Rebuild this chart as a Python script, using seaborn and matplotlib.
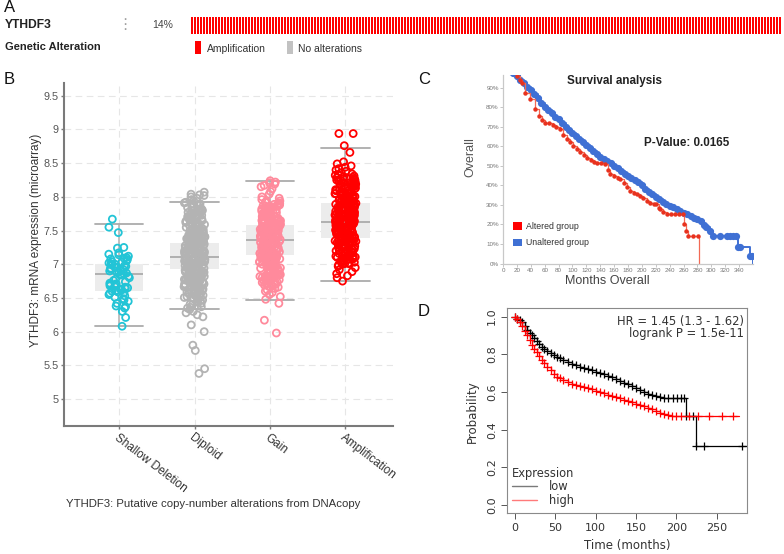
import numpy as np
import pandas as pd
import matplotlib
matplotlib.use("Agg")
import matplotlib.pyplot as plt
import matplotlib.transforms as mtransforms
from matplotlib.patches import Rectangle, Patch
from matplotlib.lines import Line2D
import seaborn as sns

# ---------------- Panel A data ----------------
gene = "YTHDF3"
altered_fraction = "14%"
n_altered_samples = 197
sample_alterations = ["Amplification"] * n_altered_samples
alteration_types = ["Amplification", "No alterations"]
alteration_colors = ["#ff0000", "#c2c2c2"]

# ---------------- Panel B data ----------------
cna_categories = ["Shallow Deletion", "Diploid", "Gain", "Amplification"]
cna_colors = ["#22c4d6", "#b3b3b3", "#ff8a9c", "#ff0000"]
box_q1 = [6.60, 6.93, 7.14, 7.39]
box_median = [6.86, 7.11, 7.36, 7.63]
box_q3 = [7.00, 7.32, 7.58, 7.91]
whisker_low = [6.08, 6.33, 6.47, 6.75]
whisker_high = [7.60, 7.92, 8.24, 8.72]
expr_yticks = [5, 5.5, 6, 6.5, 7, 7.5, 8, 8.5, 9, 9.5]

expr_shallow = [7.67, 7.55, 7.47, 7.25, 7.24, 7.17, 7.15, 7.14, 7.12, 7.10, 7.09, 7.08, 7.07, 7.05,
                7.04, 7.03, 7.02, 7.01, 7.00, 6.99, 6.98, 6.97, 6.96, 6.95, 6.94, 6.93, 6.92, 6.91,
                6.90, 6.89, 6.88, 6.87, 6.86, 6.85, 6.84, 6.82, 6.80, 6.78, 6.76, 6.74, 6.72, 6.71,
                6.70, 6.69, 6.68, 6.67, 6.66, 6.65, 6.64, 6.63, 6.62, 6.61, 6.60, 6.59, 6.58, 6.57,
                6.55, 6.53, 6.51, 6.49, 6.47, 6.45, 6.42, 6.38, 6.37, 6.35, 6.30, 6.21, 6.08]

expr_diploid = [8.07, 8.04, 8.03, 8.02, 8.00, 7.98, 7.96, 7.94, 7.92, 7.91, 7.90, 7.89, 7.88, 7.87,
                7.86, 7.85, 7.84, 7.83, 7.82, 7.81, 7.80, 7.79, 7.78, 7.77, 7.76, 7.75, 7.74, 7.73,
                7.72, 7.71, 7.70,
                7.69, 7.68, 7.67, 7.66, 7.65, 7.64, 7.63, 7.62, 7.61, 7.60,
                7.59, 7.58, 7.57, 7.56, 7.55, 7.54, 7.53, 7.52, 7.51, 7.50,
                7.49, 7.48, 7.47, 7.46, 7.45, 7.44, 7.43, 7.42, 7.41, 7.40,
                7.39, 7.38, 7.37, 7.36, 7.35, 7.34, 7.33, 7.32, 7.31, 7.30,
                7.29, 7.28, 7.27, 7.26, 7.25, 7.24, 7.23, 7.22, 7.21, 7.20,
                7.19, 7.18, 7.17, 7.16, 7.15, 7.14, 7.13, 7.12, 7.11, 7.10,
                7.09, 7.08, 7.07, 7.06, 7.05, 7.04, 7.03, 7.02, 7.01, 7.00,
                6.99, 6.98, 6.97, 6.96, 6.95, 6.94, 6.93, 6.92, 6.91, 6.90,
                6.89, 6.88, 6.87, 6.86, 6.85, 6.84, 6.83, 6.82, 6.81, 6.80,
                6.79, 6.78, 6.77, 6.76, 6.75, 6.74, 6.73, 6.72, 6.71, 6.70,
                6.69, 6.68, 6.67, 6.66, 6.65, 6.64, 6.63, 6.62, 6.61, 6.60,
                6.59, 6.58, 6.57, 6.56, 6.55, 6.54, 6.53, 6.52, 6.51, 6.50,
                7.455, 7.435, 7.415, 7.395, 7.375, 7.355, 7.335, 7.315, 7.295, 7.275, 7.255, 7.235,
                7.215, 7.195, 7.175, 7.155, 7.135, 7.115, 7.095, 7.075, 7.055, 7.035, 7.015, 6.995,
                6.975, 6.955, 6.935, 6.915, 6.895, 6.875, 6.855, 6.835, 6.815, 6.795, 6.775, 6.755,
                7.807, 7.787, 7.767, 7.747, 7.727, 7.707, 7.687, 7.667, 7.647, 7.627, 7.607, 7.587,
                7.567, 7.547, 7.527, 7.507, 7.487, 7.467, 7.447, 7.427, 7.407, 7.387, 7.367, 7.347,
                7.327, 7.307, 7.287, 7.267, 7.247, 7.227, 7.207, 7.187, 7.167, 7.147, 7.127, 7.107,
                7.087, 7.067, 7.047, 7.027, 7.007, 6.987, 6.967, 6.947, 6.927, 6.907, 6.887, 6.867,
                6.847, 6.827, 6.807, 6.787, 6.767, 6.747, 6.727, 6.707, 6.687, 6.667, 6.647, 6.627,
                6.607, 6.587, 6.567, 6.547, 6.527, 6.507,
                6.49, 6.47, 6.46, 6.45, 6.44, 6.42, 6.41, 6.40, 6.38, 6.37, 6.36, 6.35, 6.33, 6.30,
                6.28, 6.25, 6.22, 6.10, 6.00, 5.80, 5.72, 5.45, 5.38]

expr_gain = [8.24, 8.22, 8.21, 8.19, 8.17, 8.15, 8.12, 8.08, 8.04, 8.00, 7.98, 7.96, 7.94, 7.93, 7.92,
             7.91, 7.90,
             7.89, 7.88, 7.87, 7.86, 7.85, 7.84, 7.83, 7.82, 7.81, 7.80,
             7.79, 7.78, 7.77, 7.76, 7.75, 7.74, 7.73, 7.72, 7.71, 7.70,
             7.69, 7.68, 7.67, 7.66, 7.65, 7.64, 7.63, 7.62, 7.61, 7.60,
             7.59, 7.58, 7.57, 7.56, 7.55, 7.54, 7.53, 7.52, 7.51, 7.50,
             7.49, 7.48, 7.47, 7.46, 7.45, 7.44, 7.43, 7.42, 7.41, 7.40,
             7.39, 7.38, 7.37, 7.36, 7.35, 7.34, 7.33, 7.32, 7.31, 7.30,
             7.29, 7.28, 7.27, 7.26, 7.25, 7.24, 7.23, 7.22, 7.21, 7.20,
             7.19, 7.18, 7.17, 7.16, 7.15, 7.14, 7.13, 7.12, 7.11, 7.10,
             7.09, 7.08, 7.07, 7.06, 7.05, 7.04, 7.03, 7.02, 7.01, 7.00,
             6.99, 6.98, 6.97, 6.96, 6.95, 6.94, 6.93, 6.92, 6.91, 6.90,
             6.89, 6.88, 6.87, 6.86, 6.85, 6.84, 6.83, 6.82, 6.81, 6.80,
             6.79, 6.78, 6.77, 6.76, 6.75, 6.74, 6.73, 6.72, 6.71, 6.70,
             7.645, 7.625, 7.605, 7.585, 7.565, 7.545, 7.525, 7.505, 7.485, 7.465, 7.445, 7.425,
             7.405, 7.385, 7.365, 7.345, 7.325, 7.305, 7.285, 7.265, 7.245, 7.225, 7.205, 7.185,
             7.165, 7.145, 7.125, 7.105, 7.085, 7.065, 7.045,
             7.887, 7.867, 7.847, 7.827, 7.807, 7.787, 7.767, 7.747, 7.727, 7.707, 7.687, 7.667,
             7.647, 7.627, 7.607, 7.587, 7.567, 7.547, 7.527, 7.507, 7.487, 7.467, 7.447, 7.427,
             7.407, 7.387, 7.367, 7.347, 7.327, 7.307, 7.287, 7.267, 7.247, 7.227, 7.207, 7.187,
             7.167, 7.147, 7.127, 7.107, 7.087, 7.067, 7.047, 7.027, 7.007, 6.987, 6.967, 6.947,
             6.927, 6.907, 6.887, 6.867, 6.847, 6.827, 6.807, 6.787, 6.767, 6.747, 6.727, 6.707,
             6.687,
             6.69, 6.67, 6.66, 6.64, 6.62, 6.60, 6.58, 6.55, 6.52, 6.48, 6.42, 6.17, 5.98]

expr_amp = [8.94, 8.94, 8.76, 8.66, 8.52, 8.49, 8.46, 8.44, 8.42, 8.40, 8.38, 8.36, 8.34, 8.33, 8.32,
            8.31, 8.30,
            8.29, 8.28, 8.27, 8.26, 8.25, 8.24, 8.23, 8.22, 8.21, 8.20,
            8.19, 8.18, 8.17, 8.16, 8.15, 8.14, 8.13, 8.12, 8.11, 8.10,
            8.09, 8.08, 8.07, 8.06, 8.05, 8.04, 8.03, 8.02, 8.01, 8.00,
            7.99, 7.98, 7.97, 7.96, 7.95, 7.94, 7.93, 7.92, 7.91, 7.90,
            7.89, 7.88, 7.87, 7.86, 7.85, 7.84, 7.83, 7.82, 7.81, 7.80,
            7.79, 7.78, 7.77, 7.76, 7.75, 7.74, 7.73, 7.72, 7.71, 7.70,
            7.69, 7.68, 7.67, 7.66, 7.65, 7.64, 7.63, 7.62, 7.61, 7.60,
            7.59, 7.58, 7.57, 7.56, 7.55, 7.54, 7.53, 7.52, 7.51, 7.50,
            7.49, 7.48, 7.47, 7.46, 7.45, 7.44, 7.43, 7.42, 7.41, 7.40,
            7.39, 7.38, 7.37, 7.36, 7.35, 7.34, 7.33, 7.32, 7.31, 7.30,
            7.29, 7.28, 7.27, 7.26, 7.25, 7.24, 7.23, 7.22, 7.21, 7.20,
            7.19, 7.18, 7.17, 7.16, 7.15, 7.14, 7.13, 7.12, 7.11, 7.10,
            7.09, 7.08, 7.07, 7.06, 7.05, 7.04, 7.03, 7.02, 7.01, 7.00,
            7.905, 7.885, 7.865, 7.845, 7.825, 7.805, 7.785, 7.765, 7.745, 7.725, 7.705, 7.685,
            7.665, 7.645, 7.625, 7.605, 7.585, 7.565, 7.545, 7.525, 7.505, 7.485, 7.465, 7.445,
            7.425, 7.405, 7.385, 7.365, 7.345, 7.325, 7.305,
            8.287, 8.267, 8.247, 8.227, 8.207, 8.187, 8.167, 8.147, 8.127, 8.107, 8.087, 8.067,
            8.047, 8.027, 8.007, 7.987, 7.967, 7.947, 7.927, 7.907, 7.887, 7.867, 7.847, 7.827,
            7.807, 7.787, 7.767, 7.747, 7.727, 7.707, 7.687, 7.667, 7.647, 7.627, 7.607, 7.587,
            7.567, 7.547, 7.527, 7.507, 7.487, 7.467, 7.447, 7.427, 7.407, 7.387, 7.367, 7.347,
            7.327, 7.307, 7.287, 7.267, 7.247, 7.227, 7.207, 7.187, 7.167, 7.147, 7.127, 7.107,
            7.087, 7.067, 7.047, 7.027, 7.007,
            6.99, 6.97, 6.95, 6.92, 6.89, 6.86, 6.83, 6.80, 6.75]

# ---------------- Panel C data ----------------
unaltered_months = [0, 5, 10, 15, 20, 25, 30, 35, 40, 45, 50, 55, 60, 65, 70, 75, 80, 85, 90, 95,
                    100, 105, 110, 115, 120, 125, 130, 135, 140, 145, 150, 155, 160, 165, 170, 175,
                    180, 185, 190, 195, 200, 205, 210, 215, 220, 225, 230, 235, 240, 245, 250, 255,
                    260, 265, 270, 275, 280, 285, 289, 293, 298, 303, 312, 322, 327, 331, 336, 339,
                    341, 356, 358, 360]
unaltered_surv = [100, 99.2, 98.4, 97.4, 95.9, 94.2, 92.4, 90.6, 88.8, 87.0, 84.6, 82.0, 80.0, 78.5,
                  76.9, 75.3, 73.8, 72.0, 70.2, 68.4, 66.8, 65.2, 63.6, 62.1, 60.6, 59.0, 57.4, 55.9,
                  54.8, 53.8, 52.7, 51.4, 50.0, 48.7, 47.4, 46.1, 45.0, 44.0, 42.9, 41.6, 40.0, 38.4,
                  36.8, 35.4, 34.1, 32.8, 31.5, 30.5, 29.6, 28.7, 27.8, 27.0, 26.1, 25.3, 24.3, 23.4,
                  22.6, 21.6, 19.5, 18.6, 16.7, 14.2, 14.2, 14.2, 14.2, 14.2, 14.2, 8.2, 8.2, 4.0,
                  4.0, 0]
altered_months = [0, 10, 20, 25, 27, 32, 39, 46, 52, 56, 60, 66, 72, 77, 82, 87, 92, 97, 101, 106,
                  111, 116, 121, 126, 131, 135, 141, 147, 151, 154, 160, 165, 169, 174, 179, 183,
                  188, 193, 197, 202, 207, 212, 218, 221, 224, 226, 231, 236, 242, 248, 254, 259,
                  261, 264, 267, 273, 281, 282]
altered_surv = [100, 98.4, 95.9, 94.0, 92.6, 87.5, 84.1, 79.0, 75.5, 73.6, 72.0, 71.8, 71.2, 70.2,
                68.7, 66.0, 63.6, 62.2, 60.2, 58.5, 56.9, 55.6, 54.3, 53.2, 52.2, 51.7, 51.3, 50.9,
                48.0, 45.7, 44.8, 43.6, 43.1, 41.0, 39.2, 37.2, 36.2, 35.5, 34.7, 33.5, 32.1, 30.8,
                30.4, 30.4, 28.2, 27.8, 26.5, 25.2, 25.2, 25.2, 25.2, 25.2, 20.1, 16.7, 14.2, 14.2,
                14.2, 0]
surv_month_ticks = [0, 20, 40, 60, 80, 100, 120, 140, 160, 180, 200, 220, 240, 260, 280, 300, 320, 340]
surv_pct_ticks = [0, 10, 20, 30, 40, 50, 60, 70, 80, 90]
surv_groups = ["Altered group", "Unaltered group"]
surv_colors = ["#ff0000", "#3f70d4"]
p_value_text = "P-Value: 0.0165"

# ---------------- Panel D data ----------------
low_months = [0, 3, 6, 9, 12, 15, 18, 21, 24, 27, 30, 33, 36, 40, 44, 48, 52, 56, 60, 65, 70, 75,
              80, 85, 90, 95, 100, 105, 110, 115, 120, 125, 130, 135, 140, 145, 150, 155, 160, 165,
              170, 175, 180, 185, 190, 196, 201, 206, 210, 212, 221, 224, 234, 281, 287]
low_prob = [1.0, 0.99, 0.98, 0.97, 0.95, 0.93, 0.915, 0.9, 0.885, 0.87, 0.855, 0.84, 0.828, 0.816,
            0.805, 0.795, 0.786, 0.778, 0.77, 0.759, 0.749, 0.742, 0.735, 0.728, 0.721, 0.715,
            0.708, 0.701, 0.694, 0.687, 0.677, 0.667, 0.656, 0.648, 0.64, 0.632, 0.621, 0.61, 0.6,
            0.59, 0.582, 0.577, 0.572, 0.569, 0.567, 0.567, 0.567, 0.567, 0.567, 0.473, 0.473,
            0.315, 0.315, 0.315, 0.315]
high_months = [0, 3, 6, 9, 12, 15, 18, 21, 24, 27, 30, 33, 36, 40, 44, 48, 52, 56, 60, 65, 70, 75,
               80, 85, 90, 95, 100, 105, 110, 115, 120, 125, 130, 135, 140, 145, 150, 155, 160, 165,
               170, 175, 180, 185, 190, 195, 200, 206, 215, 227, 241, 256, 270, 277]
high_prob = [1.0, 0.985, 0.97, 0.95, 0.925, 0.9, 0.875, 0.85, 0.83, 0.81, 0.79, 0.77, 0.752, 0.735,
             0.715, 0.695, 0.682, 0.672, 0.664, 0.655, 0.645, 0.637, 0.631, 0.626, 0.621, 0.614,
             0.607, 0.601, 0.594, 0.585, 0.578, 0.572, 0.566, 0.56, 0.554, 0.546, 0.537, 0.531,
             0.523, 0.516, 0.508, 0.5, 0.49, 0.482, 0.476, 0.473, 0.473, 0.473, 0.473, 0.473,
             0.473, 0.473, 0.473, 0.473]
km_month_ticks = [0, 50, 100, 150, 200, 250]
km_prob_ticks = [0.0, 0.2, 0.4, 0.6, 0.8, 1.0]
hr_text = "HR = 1.45 (1.3 - 1.62)"
logrank_text = "logrank P = 1.5e-11"
expression_levels = ["low", "high"]
expression_colors = ["#000000", "#ff0000"]

# ---------------- figure ----------------
sns.set_theme(style="white")
plt.rcParams['font.family'] = ['Liberation Sans', 'DejaVu Sans']

W, H = 784, 554
fig = plt.figure(figsize=(W / 100, H / 100), dpi=100)
fig.patch.set_facecolor("white")


def px_rect(l, t, r, b):
    return [l / W, 1 - b / H, (r - l) / W, (b - t) / H]


# ---------------- Panel A ----------------
axa = fig.add_axes(px_rect(190, 17, 781, 34))
sample_idx = np.arange(len(sample_alterations))
color_map = dict(zip(alteration_types, alteration_colors))
axa.bar(sample_idx, np.ones(len(sample_idx)), width=2 / 3,
        color=[color_map[a] for a in sample_alterations], linewidth=0)
axa.set_xlim(-2 / 3, len(sample_idx) - 2 / 3)
axa.set_ylim(0, 1)
axa.axis("off")

# ---------------- Panel B ----------------
axb = fig.add_axes(px_rect(64, 83, 393, 426))
df_b = pd.DataFrame({
    "cna": (["Shallow Deletion"] * len(expr_shallow) + ["Diploid"] * len(expr_diploid)
            + ["Gain"] * len(expr_gain) + ["Amplification"] * len(expr_amp)),
    "expr": expr_shallow + expr_diploid + expr_gain + expr_amp,
})
stats = [dict(med=m, q1=a, q3=b, whislo=lo, whishi=hi, fliers=[])
         for m, a, b, lo, hi in zip(box_median, box_q1, box_q3, whisker_low, whisker_high)]
axb.bxp(stats, positions=range(len(cna_categories)), widths=0.64, capwidths=0.64,
        patch_artist=True, showfliers=False, manage_ticks=False,
        boxprops=dict(facecolor="#ececec", edgecolor="none"),
        medianprops=dict(color="#ababab", lw=1.3),
        whiskerprops=dict(color="#b5b5b5", lw=1.2),
        capprops=dict(color="#ababab", lw=1.3), zorder=1)
np.random.seed(11)
sns.stripplot(data=df_b, x="cna", y="expr", hue="cna", order=cna_categories,
              hue_order=cna_categories, palette=cna_colors, jitter=0.14, size=5.0,
              linewidth=0, legend=False, ax=axb, zorder=3)
for coll in axb.collections:
    fc = coll.get_facecolors()
    coll.set_edgecolors(fc)
    coll.set_facecolors("none")
    coll.set_linewidth(1.3)
axb.set_xlim(-0.73, 3.63)
axb.set_ylim(4.6, 9.69)
axb.set_yticks(expr_yticks)
axb.set_yticklabels([f"{v:g}" for v in expr_yticks])
axb.set_xticks(range(len(cna_categories)))
axb.set_xticklabels(cna_categories, rotation=-37.5, ha="left", va="top",
                    rotation_mode="anchor", fontsize=8.5, color="#333333")
offset = mtransforms.ScaledTranslation(-4 / 100, 0, fig.dpi_scale_trans)
for lab in axb.get_xticklabels():
    lab.set_transform(lab.get_transform() + offset)
axb.set_xlabel("")
axb.set_ylabel("")
axb.grid(True, color="#e6e6e6", ls=(0, (6, 4)), lw=0.8)
axb.set_axisbelow(True)
for s in ["top", "right"]:
    axb.spines[s].set_visible(False)
for s in ["left", "bottom"]:
    axb.spines[s].set_color("#7a7a7a")
    axb.spines[s].set_linewidth(1.5)
axb.tick_params(axis="y", left=True, length=2.5, width=1, color="#7a7a7a",
                labelsize=7.8, labelcolor="#555555", pad=1.5)
axb.tick_params(axis="x", bottom=True, length=2.5, width=1, color="#7a7a7a", pad=1.5)

# ---------------- Panel C ----------------
axc = fig.add_axes(px_rect(503, 75, 753, 263.5))
sns.lineplot(x=unaltered_months, y=unaltered_surv, drawstyle="steps-post", estimator=None,
             sort=False, color=surv_colors[1], lw=1.4, marker="o", markersize=5.2,
             markeredgewidth=0, markerfacecolor=surv_colors[1], markevery=slice(0, -1), ax=axc)
sns.lineplot(x=altered_months, y=altered_surv, drawstyle="steps-post", estimator=None,
             sort=False, color="#f26a55", lw=0.9, marker="o", markersize=3.2,
             markeredgewidth=0, markerfacecolor="#e8321e", markevery=slice(0, -1), ax=axc)
axc.set_xlim(0, 360)
axc.set_ylim(0, 96.6)
axc.set_xticks(surv_month_ticks)
axc.set_xticklabels([str(v) for v in surv_month_ticks])
axc.set_yticks(surv_pct_ticks)
axc.set_yticklabels([f"{v}%" for v in surv_pct_ticks])
axc.tick_params(axis="both", labelsize=4.5, labelcolor="#777777", length=2, width=0.6,
                color="#bbbbbb", left=True, bottom=True, pad=1)
for s in ["top", "right"]:
    axc.spines[s].set_visible(False)
for s in ["left", "bottom"]:
    axc.spines[s].set_color("#c8c8c8")
    axc.spines[s].set_linewidth(0.9)
axc.set_xlabel("")
axc.set_ylabel("")
axc.legend(handles=[Patch(facecolor=c, edgecolor="none") for c in surv_colors],
           labels=surv_groups, loc="lower left", bbox_to_anchor=(0.04, 0.085),
           frameon=False, fontsize=6.3, handlelength=1.0, handleheight=1.0,
           handletextpad=0.5, labelspacing=0.9, borderaxespad=0, borderpad=0,
           labelcolor="#333333")

# ---------------- Panel D ----------------
axd = fig.add_axes(px_rect(507, 308, 747, 513))
sns.lineplot(x=low_months, y=low_prob, drawstyle="steps-post", estimator=None, sort=False,
             color=expression_colors[0], lw=0.9, marker="+", markersize=5.5, markeredgewidth=0.9,
             markeredgecolor=expression_colors[0], markevery=slice(0, -1), ax=axd)
sns.lineplot(x=high_months, y=high_prob, drawstyle="steps-post", estimator=None, sort=False,
             color=expression_colors[1], lw=0.9, marker="+", markersize=5.5, markeredgewidth=0.9,
             markeredgecolor=expression_colors[1], markevery=slice(0, -1), ax=axd)
axd.set_xlim(-10, 287.5)
axd.set_ylim(-0.0425, 1.046)
axd.set_xticks(km_month_ticks)
axd.set_xticklabels([str(v) for v in km_month_ticks], family="DejaVu Sans")
axd.set_yticks(km_prob_ticks)
axd.set_yticklabels([f"{v:.1f}" for v in km_prob_ticks], family="DejaVu Sans",
                    rotation=90, va="center")
axd.tick_params(axis="both", labelsize=8, labelcolor="#333333", length=4, width=0.7,
                color="#555555", left=True, bottom=True, direction="out", pad=3)
for s in axd.spines.values():
    s.set_color("#8a8a8a")
    s.set_linewidth(0.8)
axd.set_xlabel("")
axd.set_ylabel("")
leg = axd.legend(handles=[Line2D([], [], color="#7a7a7a", lw=1),
                          Line2D([], [], color="#ff7a7a", lw=1)],
                 labels=expression_levels, title="Expression", loc="lower left",
                 bbox_to_anchor=(0.02, 0.03), frameon=False, alignment="left",
                 prop=dict(family="DejaVu Sans", size=8.3), handlelength=2.2,
                 handletextpad=1.0, labelspacing=0.05, borderaxespad=0, borderpad=0)
leg.get_title().set_fontfamily("DejaVu Sans")
leg.get_title().set_fontsize(8.3)
leg.get_title().set_color("#333333")
for t in leg.get_texts():
    t.set_color("#333333")

# ---------------- overlay texts ----------------
ov = fig.add_axes([0, 0, 1, 1], zorder=10)
ov.set_xlim(0, W)
ov.set_ylim(H, 0)
ov.axis("off")
ov.patch.set_alpha(0)

for letter, (x, y) in zip("ABCD", [(4, 8), (4, 79), (418, 79), (418, 311)]):
    ov.text(x, y, letter, fontsize=12, ha="left", va="center", color="#111111")

ov.text(5, 25.5, gene, fontsize=8.7, fontweight="bold", ha="left", va="center", color="#222222")
ov.text(125, 25, "\u22ee", family="DejaVu Sans", fontsize=11, ha="center", va="center",
        color="#a0a0a0")
ov.text(152, 25.5, altered_fraction, fontsize=7.5, ha="left", va="center", color="#444444")
ov.text(5, 46.5, "Genetic Alteration", fontsize=8, fontweight="bold", ha="left", va="center",
        color="#222222")
for (xr, xt), lab, col in zip([(195, 207), (287, 298)], alteration_types, alteration_colors):
    ov.add_patch(Rectangle((xr, 41), 6, 13, facecolor=col, edgecolor="none"))
    ov.text(xt, 48.5, lab, fontsize=7.5, ha="left", va="center", color="#333333")

ov.text(36, 240, "YTHDF3: mRNA expression (microarray)", rotation=90, fontsize=8.5,
        ha="center", va="center", color="#333333")
ov.text(213, 504, "YTHDF3: Putative copy-number alterations from DNAcopy", fontsize=8.2,
        ha="center", va="center", color="#333333")

ov.text(615, 81, "Survival analysis", fontsize=8.4, fontweight="bold", ha="center",
        va="center", color="#222222")
ov.text(687, 143, p_value_text, fontsize=8.4, fontweight="bold", ha="center", va="center",
        color="#222222")
ov.text(470, 157, "Overall", rotation=90, fontsize=9, ha="center", va="center", color="#555555")
ov.text(607, 281, "Months Overall", fontsize=9, ha="center", va="center", color="#444444")

ov.text(472, 412, "Probability", rotation=90, family="DejaVu Sans", fontsize=8.5,
        ha="center", va="center", color="#333333")
ov.text(627, 545, "Time (months)", family="DejaVu Sans", fontsize=8.5, ha="center",
        va="center", color="#333333")
ov.text(744, 321, hr_text, family="DejaVu Sans", fontsize=8.3, ha="right", va="center",
        color="#333333")
ov.text(744, 334, logrank_text, family="DejaVu Sans", fontsize=8.3, ha="right", va="center",
        color="#333333")

fig.savefig("out.png", dpi=100, facecolor="white")
